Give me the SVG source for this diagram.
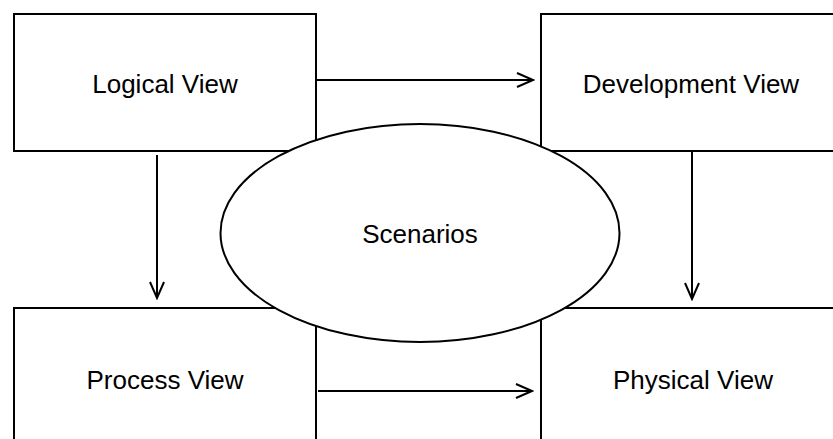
<svg xmlns="http://www.w3.org/2000/svg" width="833" height="439" viewBox="0 0 833 439">
<defs>
<style>
.box{fill:#fff;stroke:#000;stroke-width:2}
.lbl{font-family:"Liberation Sans",Arial,sans-serif;font-size:26px;fill:#000;text-anchor:middle}
.edge{stroke:#000;stroke-width:2;fill:none}
</style>
<marker id="arr" viewBox="0 0 20 20" refX="18" refY="10" markerWidth="20" markerHeight="20" markerUnits="userSpaceOnUse" orient="auto">
<path d="M2,3 L18,10 L2,17" fill="none" stroke="#000" stroke-width="2"/>
</marker>
</defs>
<rect width="833" height="439" fill="#fff"/>
<g id="logical"><rect class="box" x="14" y="14" width="302" height="137"/><text class="lbl" x="165" y="93">Logical View</text></g>
<g id="development"><rect class="box" x="541" y="14" width="310" height="137"/><text class="lbl" x="691" y="93">Development View</text></g>
<g id="process"><rect class="box" x="14" y="308" width="302" height="150"/><text class="lbl" x="165" y="389">Process View</text></g>
<g id="physical"><rect class="box" x="541" y="308" width="310" height="150"/><text class="lbl" x="693" y="389">Physical View</text></g>
<g id="connectors">
<line class="edge" x1="316" y1="80" x2="533" y2="80" marker-end="url(#arr)"/>
<line class="edge" x1="318" y1="391" x2="532" y2="391" marker-end="url(#arr)"/>
<line class="edge" x1="157" y1="155" x2="157" y2="298" marker-end="url(#arr)"/>
<line class="edge" x1="692" y1="151" x2="692" y2="299" marker-end="url(#arr)"/>
</g>
<g id="scenarios"><ellipse class="box" cx="420" cy="233" rx="199.5" ry="109"/><text class="lbl" x="420" y="243">Scenarios</text></g>
</svg>
